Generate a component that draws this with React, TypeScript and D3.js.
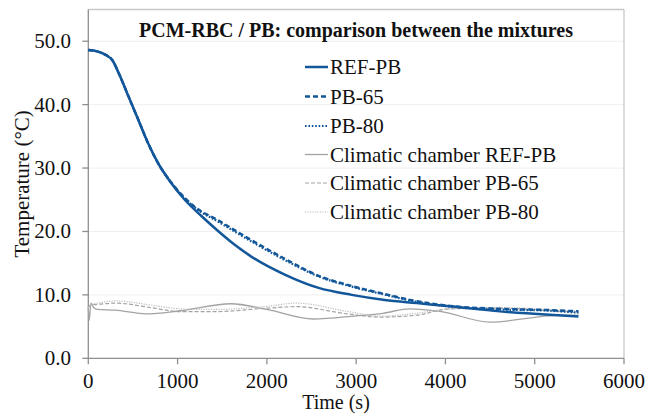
import React from "react";
import * as d3 from "d3";

const xTicks = [0, 1000, 2000, 3000, 4000, 5000, 6000];
const yTicks = [0, 10, 20, 30, 40, 50];

const tRef = [0, 100, 200, 270, 340, 450, 560, 670, 780, 930, 1080, 1270, 1460, 1640, 1830, 2200, 2580, 2950, 3320, 3680, 4050, 4610, 5170, 5490];
const refPB = [48.6, 48.4, 47.8, 47.0, 45.0, 41.3, 37.6, 33.9, 30.8, 27.6, 25.0, 22.4, 20.0, 17.9, 16.0, 13.2, 11.1, 10.0, 9.2, 8.7, 8.2, 7.4, 6.85, 6.6];

const tPB = [0, 100, 200, 270, 340, 450, 560, 670, 780, 930, 1080, 1200, 1460, 1830, 2200, 2580, 2950, 3300, 3680, 4050, 4610, 5170, 5490];
const pb65 = [48.6, 48.4, 47.8, 47.0, 45.0, 41.3, 37.6, 33.9, 30.8, 27.7, 25.3, 23.8, 21.7, 18.6, 15.7, 13.0, 11.4, 10.2, 9.0, 8.25, 7.8, 7.6, 7.4];
const pb80 = [48.6, 48.4, 47.8, 47.0, 45.0, 41.3, 37.6, 33.9, 30.8, 27.7, 25.2, 23.7, 21.5, 18.4, 15.5, 12.9, 11.3, 10.1, 8.9, 8.15, 7.7, 7.5, 7.2];

const tChRef = [0, 10, 30, 60, 100, 300, 650, 1030, 1600, 2000, 2520, 3000, 3300, 3600, 3940, 4500, 5170, 5490];
const chRef = [8.0, 6.0, 8.7, 8.0, 7.7, 7.6, 7.0, 7.5, 8.6, 7.7, 6.2, 6.7, 7.1, 7.8, 7.4, 5.7, 6.7, 6.8];

const tCh = [0, 30, 100, 300, 700, 1030, 1400, 2000, 2330, 2900, 3270, 3680, 4050, 4610, 5170, 5490];
const ch65 = [8.0, 8.4, 8.5, 8.7, 8.0, 7.35, 7.35, 7.9, 8.15, 7.0, 6.5, 6.8, 7.8, 7.9, 7.5, 7.2];
const ch80 = [8.0, 8.5, 8.7, 9.05, 8.4, 7.8, 7.7, 8.2, 8.7, 7.4, 6.65, 7.1, 7.8, 8.0, 7.7, 7.4];

const seriesNames = ["REF-PB", "PB-65", "PB-80", "Climatic chamber REF-PB", "Climatic chamber PB-65", "Climatic chamber PB-80"];

const BLUE = "#13579b";
const GRAY = "#a3a3a3";
const GRAY_LIGHT = "#bdbdbd";

const styles = [
  { stroke: BLUE, width: 2.5, dash: "" },
  { stroke: BLUE, width: 2.5, dash: "5,3" },
  { stroke: BLUE, width: 2.2, dash: "1.6,1.8" },
  { stroke: GRAY, width: 1.3, dash: "" },
  { stroke: GRAY, width: 1.2, dash: "4,2" },
  { stroke: GRAY_LIGHT, width: 1.2, dash: "1.2,1.3" },
];

const FONT = '"Liberation Serif", "DejaVu Serif", serif';
const txt = { fontFamily: FONT, fill: "#111" } as React.CSSProperties;

export default function App() {
  const W = 646, H = 414;
  const x = d3.scaleLinear().domain([0, 6000]).range([88.3, 624]);
  const y = d3.scaleLinear().domain([0, 55]).range([358.3, 9.5]);

  const mk = (ts: number[], vs: number[]) => {
    const line = d3
      .line<number>()
      .x((_, i) => x(ts[i]))
      .y((v) => y(v))
      .curve(d3.curveMonotoneX);
    return line(vs) || "";
  };

  const paths = [
    mk(tRef, refPB),
    mk(tPB, pb65),
    mk(tPB, pb80),
    mk(tChRef, chRef),
    mk(tCh, ch65),
    mk(tCh, ch80),
  ];

  const drawOrder = [3, 4, 5, 0, 1, 2];
  const legendY = [67, 96.5, 126, 154.5, 183, 212];
  const x0 = x(0), x1 = x(6000), y0 = y(0), yTop = y(55);

  return (
    <svg width={W} height={H} style={{ position: "absolute", left: 0, top: 0, background: "#fff" }}>
      <rect x={0} y={0} width={W} height={H} fill="#fff" />
      {yTicks.filter((t) => t > 0).map((t) => (
        <line key={"g" + t} x1={x0} x2={x1} y1={y(t)} y2={y(t)} stroke="#efefef" strokeWidth={1} />
      ))}
      <line x1={x0} x2={x1} y1={yTop} y2={yTop} stroke="#c8c8c8" strokeWidth={1.3} />
      <line x1={x1} x2={x1} y1={yTop} y2={y0} stroke="#c8c8c8" strokeWidth={1.3} />
      <line x1={x0} x2={x0} y1={yTop} y2={y0} stroke="#8f8f8f" strokeWidth={1.3} />
      <line x1={x0} x2={x1} y1={y0} y2={y0} stroke="#8f8f8f" strokeWidth={1.3} />
      {yTicks.map((t) => (
        <g key={"y" + t}>
          <line x1={x0 - 6} x2={x0} y1={y(t)} y2={y(t)} stroke="#8f8f8f" strokeWidth={1.3} />
          <text x={71} y={y(t) + 7} textAnchor="end" fontSize={21} style={txt}>
            {d3.format(".1f")(t)}
          </text>
        </g>
      ))}
      {xTicks.map((t) => (
        <g key={"x" + t}>
          <line x1={x(t)} x2={x(t)} y1={y0} y2={y0 + 6} stroke="#8f8f8f" strokeWidth={1.3} />
          <text x={x(t)} y={388} textAnchor="middle" fontSize={21} style={txt}>
            {t}
          </text>
        </g>
      ))}
      {drawOrder.map((i) => (
        <path
          key={"p" + i}
          d={paths[i]}
          fill="none"
          stroke={styles[i].stroke}
          strokeWidth={styles[i].width}
          strokeDasharray={styles[i].dash || undefined}
          strokeLinejoin="round"
        />
      ))}
      <text x={356} y={37} textAnchor="middle" fontWeight="bold" fontSize={20} style={txt}>
        PCM-RBC / PB: comparison between the mixtures
      </text>
      {seriesNames.map((n, i) => (
        <g key={"l" + i}>
          <line
            x1={305}
            x2={328}
            y1={legendY[i]}
            y2={legendY[i]}
            stroke={styles[i].stroke}
            strokeWidth={styles[i].width}
            strokeDasharray={styles[i].dash || undefined}
          />
          <text x={330} y={legendY[i] + 7} fontSize={21} style={txt}>
            {n}
          </text>
        </g>
      ))}
      <text x={336} y={409} textAnchor="middle" fontSize={20} style={txt}>
        Time (s)
      </text>
      <text
        transform={`translate(29, ${(yTop + y0) / 2}) rotate(-90)`}
        textAnchor="middle"
        fontSize={21}
        style={txt}
      >
        Temperature (°C)
      </text>
    </svg>
  );
}
